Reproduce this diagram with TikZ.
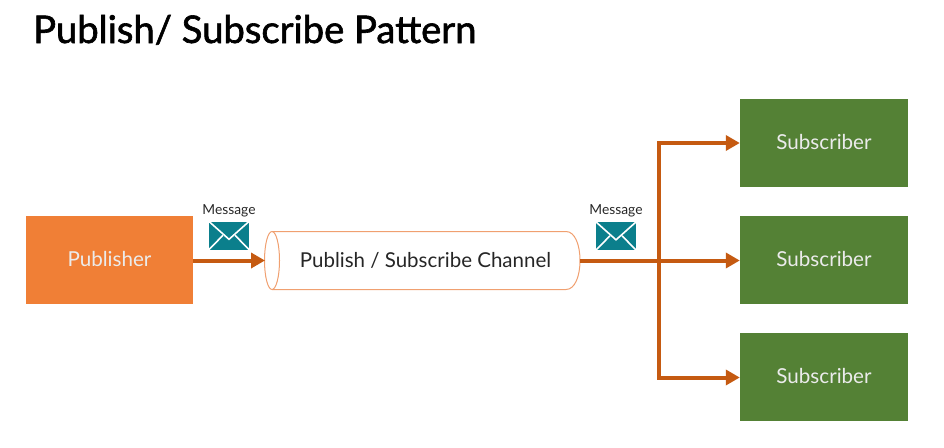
\documentclass[tikz,border=0pt]{standalone}
\usepackage{fontspec}
\setmainfont{Lato}
\newfontfamily\headfont[FakeBold=1.6]{Lato}
\usetikzlibrary{arrows.meta}
\definecolor{pubfill}{HTML}{F07F36}
\definecolor{subfill}{HTML}{548135}
\definecolor{flow}{HTML}{C55A11}
\definecolor{tube}{HTML}{F0A070}
\definecolor{mailfill}{HTML}{0B7F8C}
\definecolor{ink}{HTML}{262626}
\tikzset{
  x=1pt, y=-1pt,
  boxbase/.style={minimum width=168pt, minimum height=88pt, inner sep=0pt, text height=14.5pt, text depth=2pt, text=white!92!black, font=\fontsize{20.6}{24}\selectfont},
  pubbox/.style={boxbase, fill=pubfill, minimum width=167pt},
  subbox/.style={boxbase, fill=subfill},
  flowline/.style={draw=flow, line width=4pt, -{Triangle[length=14pt,width=15pt]}},
  flowplain/.style={draw=flow, line width=4pt},
  caption/.style={font=\fontsize{13.8}{15}\selectfont, text=ink, inner sep=0pt},
  tubeline/.style={draw=tube, line width=1pt},
  mail/.style={minimum width=40pt, minimum height=28pt, inner sep=0pt, fill=mailfill},
  mailfold/.style={draw=white, line width=1.6pt}
}
\newcommand{\mailfolds}[1]{%
  \draw[mailfold] (#1.north west) -- ([yshift=-18pt]#1.north) -- (#1.north east);
  \draw[mailfold] (#1.south west) -- ([xshift=-6pt,yshift=-14pt]#1.north);
  \draw[mailfold] (#1.south east) -- ([xshift=6pt,yshift=-14pt]#1.north);
}
\begin{document}
\begin{tikzpicture}
  \useasboundingbox (0,0) rectangle (944,447);
  \node[anchor=base west, inner sep=0pt, text=black, font=\fontsize{38.2}{46}\headfont] (title) at (33,43) {Publish/ Subscribe Pattern};

  \node[pubbox] (pub) at (109.5,260) {Publisher};
  \node[subbox] (subA) at (824,143) {Subscriber};
  \node[subbox] (subB) at (824,260) {Subscriber};
  \node[subbox] (subC) at (824,377) {Subscriber};

  % Channel: a tube seen from the left, open ellipse in front
  \node[minimum width=314pt, minimum height=58pt, inner sep=0pt, text=ink, font=\fontsize{20.5}{24}\selectfont] (chan) at (423,260.5) {\hspace{5pt}Publish / Subscribe Channel};
  \draw[tubeline] (272,231.5) -- (566,231.5) .. controls (575,231.5) and (580,245) .. (580,260.5) .. controls (580,276) and (575,289.5) .. (566,289.5) -- (272,289.5);
  \draw[tubeline] (272,260.5) ellipse [x radius=7.5, y radius=29];

  % Message envelopes with their captions
  \node[mail] (mailA) at (229,235.5) {};
  \mailfolds{mailA}
  \node[caption, above=4.5pt] (capA) at (mailA.north) {Message};
  \node[mail] (mailB) at (616,236) {};
  \mailfolds{mailB}
  \node[caption, above=4.5pt] (capB) at (mailB.north) {Message};

  % Message flow from publisher through the channel to every subscriber
  \coordinate (split) at (659,260.5);
  \coordinate (tubeL) at (265,260.5);
  \draw[flowline] ([yshift=-.5pt]pub.east) -- (tubeL);
  \draw[flowplain] (chan.east) -- (split);
  \draw[flowline] (split) -- ([yshift=-.5pt]subB.west);
  \draw[flowline] (split) |- (subA.west);
  \draw[flowline] (split) |- ([yshift=-.5pt]subC.west);
\end{tikzpicture}
\end{document}
